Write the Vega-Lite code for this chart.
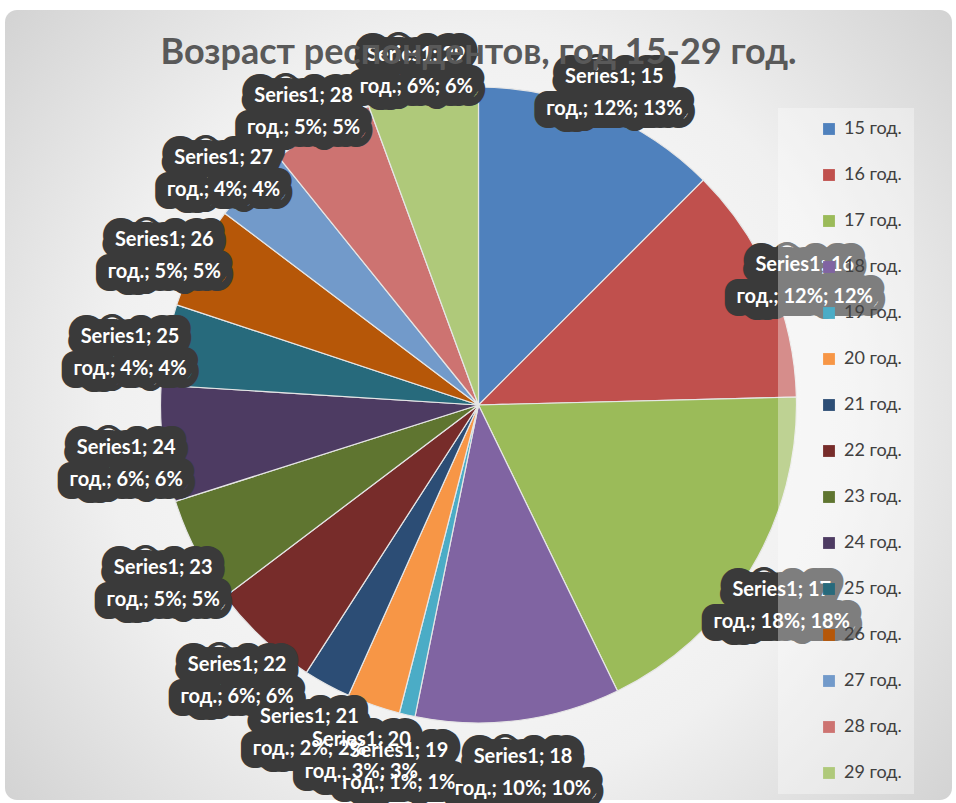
{
  "$schema": "https://vega.github.io/schema/vega-lite/v6.json",
  "width": 947,
  "height": 790,
  "autosize": {"type": "none"},
  "padding": {"left": 5, "top": 10, "right": 4, "bottom": 3},
  "background": "#ffffff",
  "title": {
    "text": "Возраст респондентов, год 15-29 год.",
    "fontSize": 36,
    "font": "Lato",
    "fontWeight": "bold",
    "color": "#595959",
    "offset": -62,
    "anchor": "middle"
  },
  "config": {
    "view": {"stroke": "#d0d0d0", "cornerRadius": 12, "fill": "#e4e4e4"}
  },
  "datasets": {
    "ages": [
      {"n": 15, "age": "15 год.", "share": 12.5, "label": ["Series1; 15", "год.; 12%; 13%"]},
      {"n": 16, "age": "16 год.", "share": 12.1, "label": ["Series1; 16", "год.; 12%; 12%"]},
      {"n": 17, "age": "17 год.", "share": 18.2, "label": ["Series1; 17", "год.; 18%; 18%"]},
      {"n": 18, "age": "18 год.", "share": 10.4, "label": ["Series1; 18", "год.; 10%; 10%"]},
      {"n": 19, "age": "19 год.", "share": 0.8, "label": ["Series1; 19", "год.; 1%; 1%"]},
      {"n": 20, "age": "20 год.", "share": 2.7, "label": ["Series1; 20", "год.; 3%; 3%"]},
      {"n": 21, "age": "21 год.", "share": 2.4, "label": ["Series1; 21", "год.; 2%; 2%"]},
      {"n": 22, "age": "22 год.", "share": 5.6, "label": ["Series1; 22", "год.; 6%; 6%"]},
      {"n": 23, "age": "23 год.", "share": 5.4, "label": ["Series1; 23", "год.; 5%; 5%"]},
      {"n": 24, "age": "24 год.", "share": 5.9, "label": ["Series1; 24", "год.; 6%; 6%"]},
      {"n": 25, "age": "25 год.", "share": 4.1, "label": ["Series1; 25", "год.; 4%; 4%"]},
      {"n": 26, "age": "26 год.", "share": 5.2, "label": ["Series1; 26", "год.; 5%; 5%"]},
      {"n": 27, "age": "27 год.", "share": 3.9, "label": ["Series1; 27", "год.; 4%; 4%"]},
      {"n": 28, "age": "28 год.", "share": 5.2, "label": ["Series1; 28", "год.; 5%; 5%"]},
      {"n": 29, "age": "29 год.", "share": 5.6, "label": ["Series1; 29", "год.; 6%; 6%"]}
    ],
    "bg": [{"panel": "chart area"}]
  },
  "layer": [
    {
      "data": {"name": "bg"},
      "mark": {
        "type": "rect",
        "cornerRadius": 12,
        "fill": {
          "gradient": "radial",
          "x1": 0.5, "y1": 0.5, "x2": 0.5, "y2": 0.5,
          "r1": 0, "r2": 0.72,
          "stops": [
            {"offset": 0, "color": "#ffffff"},
            {"offset": 0.55, "color": "#f0f0f0"},
            {"offset": 1, "color": "#cbcbcb"}
          ]
        }
      },
      "encoding": {}
    },
    {
      "data": {"name": "ages"},
      "mark": {"type": "arc", "outerRadius": 318, "stroke": "#e6e6e6", "strokeWidth": 1.2},
      "encoding": {
        "theta": {"field": "share", "type": "quantitative", "stack": true},
        "order": {"field": "n", "type": "quantitative"},
        "color": {
          "field": "age",
          "type": "nominal",
          "scale": {
            "domain": ["15 год.", "16 год.", "17 год.", "18 год.", "19 год.", "20 год.", "21 год.", "22 год.", "23 год.", "24 год.", "25 год.", "26 год.", "27 год.", "28 год.", "29 год."],
            "range": ["#4F81BD", "#C0504D", "#9BBB59", "#8064A2", "#4BACC6", "#F79646", "#2C4D75", "#772C2A", "#5F7530", "#4D3B62", "#276A7C", "#B65708", "#729ACA", "#CD7371", "#AFC97A"]
          },
          "legend": {
            "title": null,
            "orient": "none",
            "legendX": 773,
            "legendY": 98,
            "padding": 12,
            "fillColor": "rgba(255,255,255,0.35)",
            "symbolType": "square",
            "symbolSize": 140,
            "symbolStrokeWidth": 0,
            "symbolOffset": 30,
            "labelFont": "Lato",
            "labelFontSize": 18,
            "labelColor": "#404040",
            "labelOffset": 6,
            "rowPadding": 28
          }
        }
      }
    },
    {
      "data": {"name": "ages"},
      "mark": {
        "type": "text",
        "radius": 355,
        "font": "Lato",
        "fontWeight": "bold",
        "fontSize": 20,
        "lineHeight": 32,
        "align": "center",
        "baseline": "middle",
        "fill": "#3a3a3a",
        "stroke": "#3a3a3a",
        "strokeWidth": 26,
        "strokeJoin": "round"
      },
      "encoding": {
        "theta": {"field": "share", "type": "quantitative", "stack": true},
        "order": {"field": "n", "type": "quantitative"},
        "text": {"field": "label"}
      }
    },
    {
      "data": {"name": "ages"},
      "mark": {
        "type": "text",
        "radius": 355,
        "font": "Lato",
        "fontWeight": "bold",
        "fontSize": 20,
        "lineHeight": 32,
        "align": "center",
        "baseline": "middle",
        "fill": "#ffffff"
      },
      "encoding": {
        "theta": {"field": "share", "type": "quantitative", "stack": true},
        "order": {"field": "n", "type": "quantitative"},
        "text": {"field": "label"}
      }
    }
  ]
}
